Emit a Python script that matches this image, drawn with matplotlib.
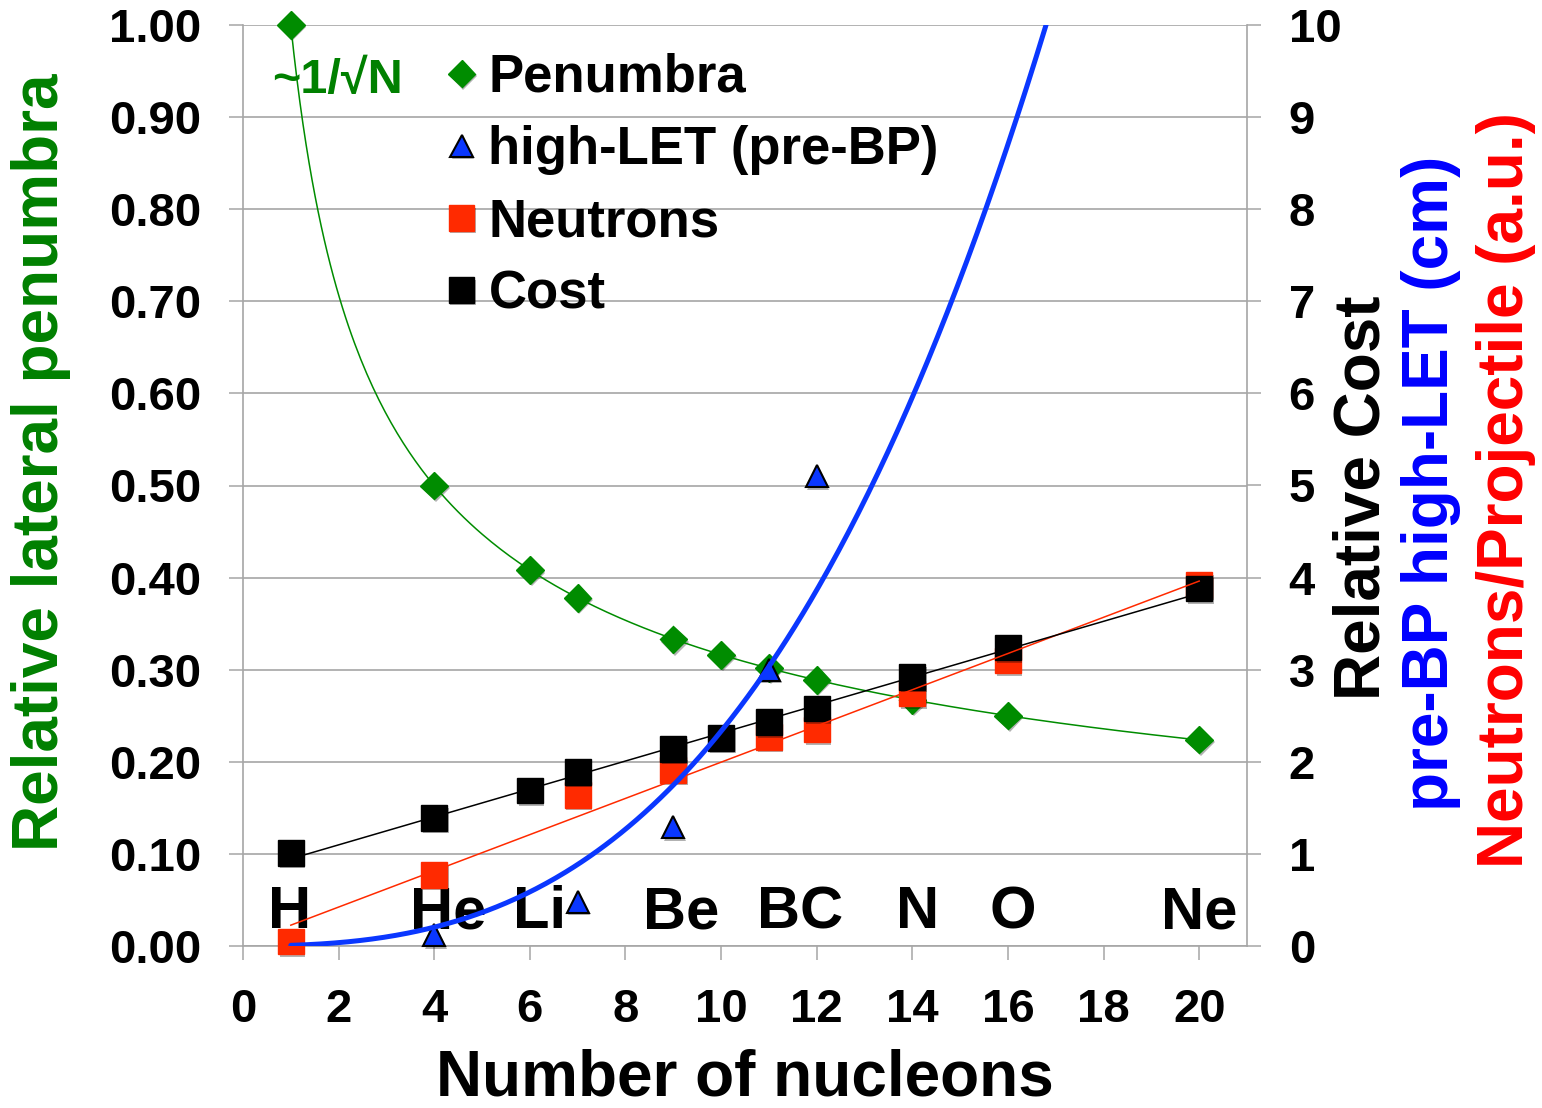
import numpy as np
import matplotlib
matplotlib.use("Agg")
import matplotlib.pyplot as plt
import matplotlib.patheffects as pe

# ---------------- data ----------------
penumbra_n = [1, 4, 6, 7, 9, 10, 11, 12, 14, 16, 20]
penumbra = [1.00, 0.50, 0.408, 0.378, 0.333, 0.316, 0.302, 0.289, 0.267, 0.250, 0.224]

let_n = [4, 7, 9, 11, 12]
let_cm = [0.12, 0.48, 1.29, 3.00, 5.10]

# samples
let_trend_n = [2.24, 3.72, 4.75, 5.79, 6.84, 7.89, 8.93, 10.25, 11.03, 12.21,
               13.18, 14.85, 15.56, 16.21, 16.84]
let_trend_cm = [0.05, 0.155, 0.32, 0.535, 0.825, 1.30, 1.77, 2.49, 3.03, 4.01,
                5.03, 7.01, 8.01, 9.0, 10.0]

neutron_n = [1, 4, 7, 9, 11, 12, 14, 16, 20]
neutrons = [0.05, 0.77, 1.64, 1.91, 2.27, 2.35, 2.74, 3.10, 3.92]

cost_n = [1, 4, 6, 7, 9, 10, 11, 12, 14, 16, 20]
cost = [1.01, 1.39, 1.69, 1.89, 2.14, 2.26, 2.43, 2.58, 2.92, 3.24, 3.88]

elements = ["H", "He", "Li", "Be", "BC", "N", "O", "Ne"]
element_pos = [0.97, 4.29, 6.21, 9.17, 11.65, 14.1, 16.1, 19.99]

x_ticks = [0, 2, 4, 6, 8, 10, 12, 14, 16, 18, 20]
left_ticks = [0.0, 0.1, 0.2, 0.3, 0.4, 0.5, 0.6, 0.7, 0.8, 0.9, 1.0]
right_ticks = [0, 1, 2, 3, 4, 5, 6, 7, 8, 9, 10]

series_labels = ["Penumbra", "high-LET (pre-BP)", "Neutrons", "Cost"]

# ---------------- style ----------------
plt.rcParams['font.family'] = ['Liberation Sans', 'DejaVu Sans']
plt.rcParams['font.weight'] = 'bold'

GREEN = '#008C00'
GREEN_TXT = '#008000'
BLUE = '#0A37FF'
RED = '#FF2A00'
GRID = '#A6A6A6'

W, H = 1542, 1108
fig = plt.figure(figsize=(W / 100, H / 100), dpi=100)
ax1 = fig.add_axes([243 / W, 1 - 946 / H, (1247 - 243) / W, (946 - 25) / H])
ax2 = ax1.twinx()

ax1.set_xlim(0, 21)
ax1.set_ylim(0, 1)
ax2.set_ylim(0, 10)

ax1.set_xticks(x_ticks)
ax1.set_xticklabels([str(v) for v in x_ticks])
ax1.set_yticks(left_ticks)
ax1.set_yticklabels([f"{v:.2f}" for v in left_ticks])
ax2.set_yticks(right_ticks)
ax2.set_yticklabels([str(v) for v in right_ticks])

for a in (ax1, ax2):
    a.tick_params(axis='both', direction='out', length=10, width=1.1,
                  color=GRID, labelsize=34, pad=20)
    a.spines['top'].set_visible(False)
    for s in a.spines.values():
        s.set_color(GRID)
        s.set_linewidth(1.2)
ax1.spines['right'].set_visible(False)
ax2.spines['left'].set_visible(False)
ax2.spines['bottom'].set_visible(False)
ax1.yaxis.grid(True, color=GRID, linewidth=1.2)
ax1.set_axisbelow(True)

shadow = [pe.SimplePatchShadow(offset=(1.2, -1.8), shadow_rgbFace='k', alpha=0.3),
          pe.Normal()]

# markers
h_pen, = ax1.plot(penumbra_n, penumbra, linestyle='none', marker='D', ms=14,
                  color=GREEN, mec=GREEN, path_effects=shadow, zorder=3,
                  clip_on=False)
# green ~1/sqrt(N) trend (power-law fit of the penumbra data)
pc = np.polyfit(np.log(penumbra_n), np.log(penumbra), 1)
xg = np.linspace(min(penumbra_n), max(penumbra_n), 300)
ax1.plot(xg, np.exp(pc[1]) * xg ** pc[0], color=GREEN, lw=1.1, zorder=4)

h_neu, = ax2.plot(neutron_n, neutrons, linestyle='none', marker='s', ms=18.5,
                  color=RED, mec=RED, path_effects=shadow, zorder=3, clip_on=False)
h_cost, = ax2.plot(cost_n, cost, linestyle='none', marker='s', ms=18.5,
                   color='black', mec='black', path_effects=shadow, zorder=3.1,
                   clip_on=False)
h_let, = ax2.plot(let_n, let_cm, linestyle='none', marker='^', ms=16,
                  color=BLUE, mec='black', mew=1.5, path_effects=shadow, zorder=3.2,
                  clip_on=False)

# linear trends
rc = np.polyfit(neutron_n, neutrons, 1)
xr = np.array([min(neutron_n), max(neutron_n)])
ax2.plot(xr, np.polyval(rc, xr), color=RED, lw=1.1, zorder=4)
cc = np.polyfit(cost_n, cost, 1)
xc = np.array([min(cost_n), max(cost_n)])
ax2.plot(xc, np.polyval(cc, xc), color='black', lw=1.1, zorder=4.1)

# high-LET trend (smooth log-log fit of the curve samples)
lc = np.polyfit(np.log(let_trend_n), np.log(let_trend_cm), 2)
xb = np.linspace(1, 17.5, 400)
ax2.plot(xb, np.exp(np.polyval(lc, np.log(xb))), color=BLUE, lw=3.6, zorder=4.2,
         solid_capstyle='round')

# element labels
for name, xp in zip(elements, element_pos):
    ax1.text(xp, 0.0195, name, ha='center', va='baseline', fontsize=43,
             fontweight='bold', color='black', zorder=2)

# ~1/sqrt(N) annotation
fig.text(338 / W, 1 - 93 / H, "~1/\u221aN", ha='center', va='baseline',
         fontsize=35, fontweight='bold', color=GREEN_TXT)

# legend
leg = ax2.legend([h_pen, h_let, h_neu, h_cost], series_labels,
                 loc='upper left', bbox_to_anchor=(441 / W, 1 - 53 / H),
                 bbox_transform=fig.transFigure, frameon=False,
                 prop={'size': 38, 'weight': 'bold'}, handlelength=0.78,
                 handletextpad=0.12, labelspacing=0.42, borderpad=0,
                 borderaxespad=0, markerscale=1.0)

# axis labels
fig.text(745 / W, 0 / H, "Number of nucleons", ha='center', va='bottom',
         fontsize=46, fontweight='bold', color='black')
fig.text(41 / W, 1 - 462 / H, "Relative lateral penumbra", rotation=90,
         ha='center', va='center', fontsize=46, fontweight='bold', color=GREEN_TXT)
fig.text(1363 / W, 1 - 498 / H, "Relative Cost", rotation=90,
         ha='center', va='center', fontsize=46, fontweight='bold', color='black')
fig.text(1431 / W, 1 - 483 / H, "pre-BP high-LET (cm)", rotation=90,
         ha='center', va='center', fontsize=46, fontweight='bold', color='#0000FF')
fig.text(1506 / W, 1 - 490 / H, "Neutrons/Projectile (a.u.)", rotation=90,
         ha='center', va='center', fontsize=46, fontweight='bold', color='#FF0000')

fig.savefig("out.png", dpi=100)
